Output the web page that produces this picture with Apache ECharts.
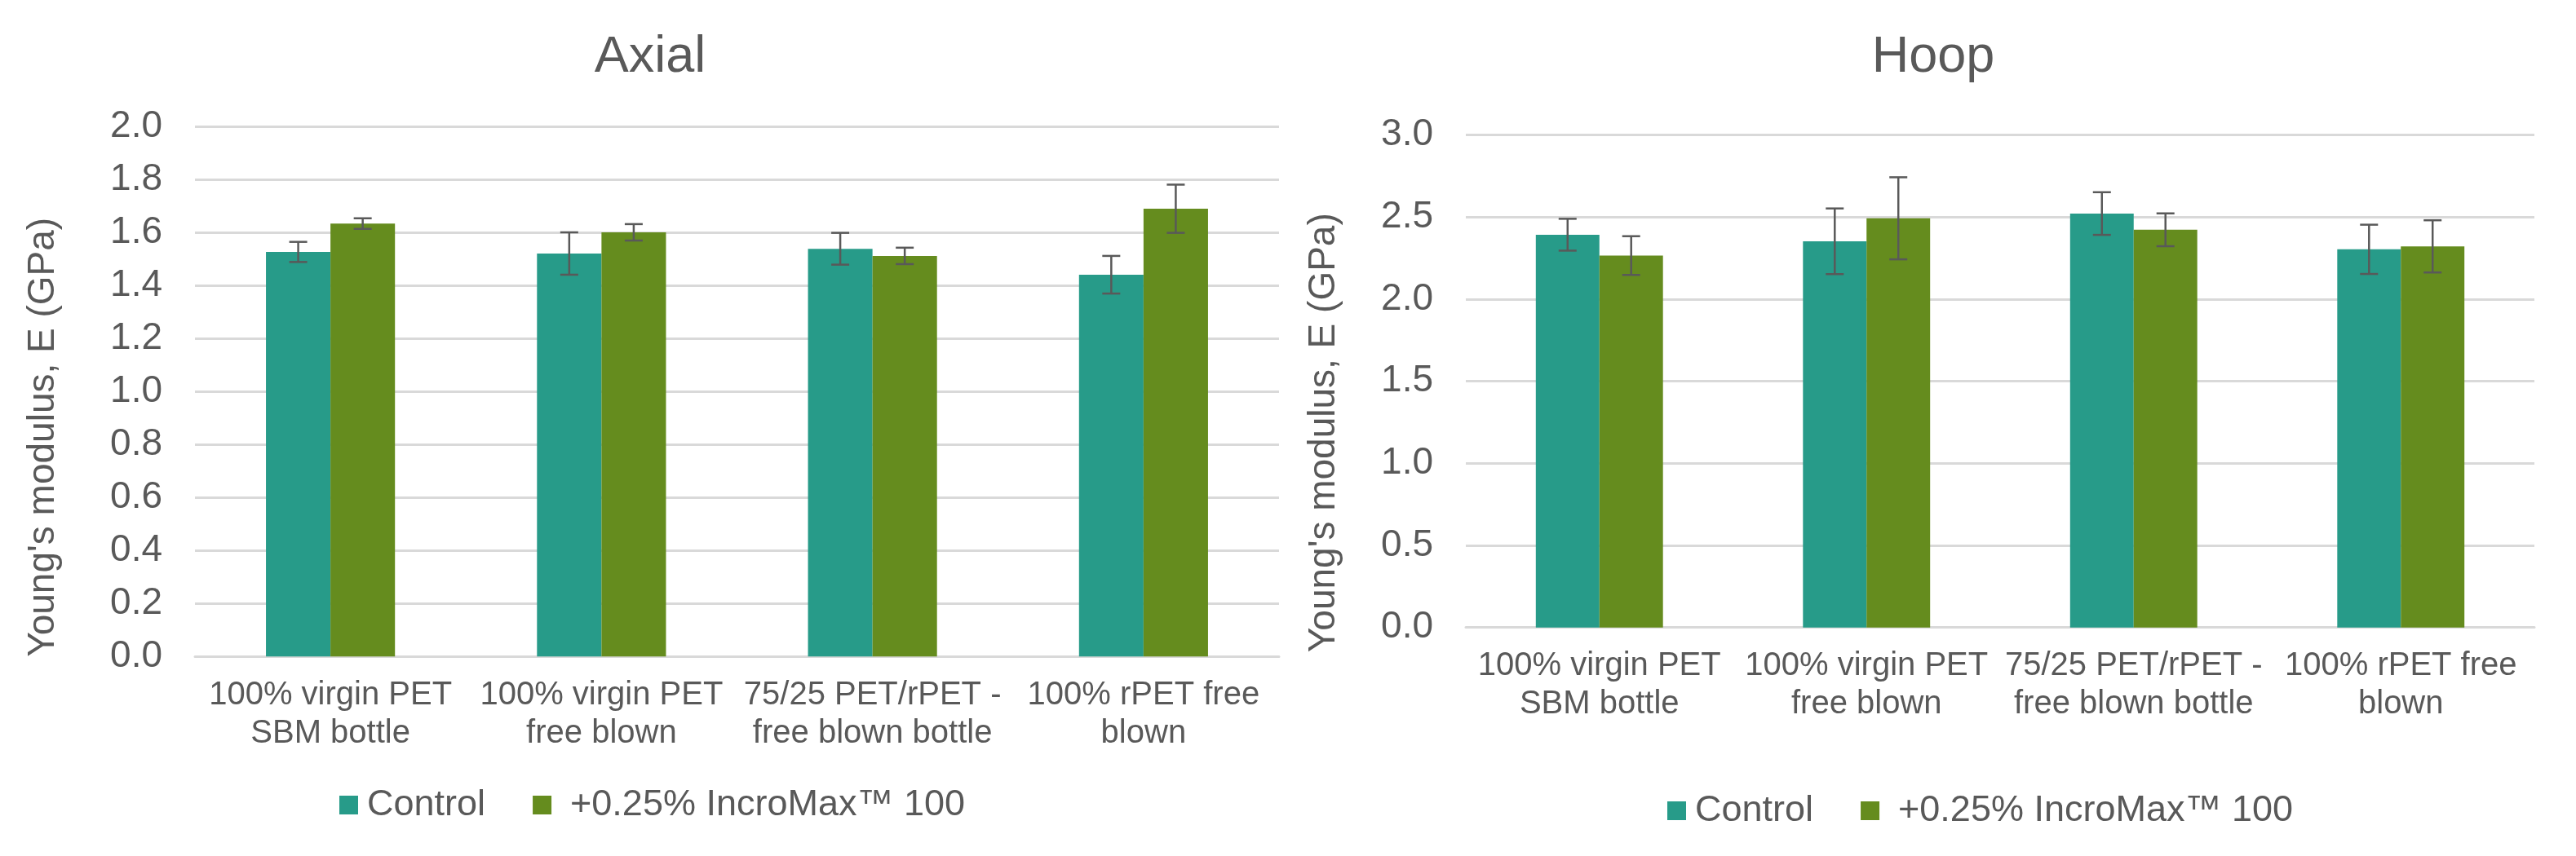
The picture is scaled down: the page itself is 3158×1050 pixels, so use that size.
<!DOCTYPE html>
<html>
<head>
<meta charset="utf-8">
<script src="https://cdn.jsdelivr.net/npm/echarts@6/dist/echarts.min.js"></script>
<style>
html,body{margin:0;padding:0;background:#fff;}
#chart{width:3158px;height:1050px;}
</style>
</head>
<body>
<div id="chart"></div>
<script>
const categories = ['100% virgin PET\nSBM bottle', '100% virgin PET\nfree blown', '75/25 PET/rPET -\nfree blown bottle', '100% rPET free\nblown'];
const seriesNames = ['Control', '+0.25% IncroMax\u2122 100'];
const axialTicks = { min: 0, max: 2.0, interval: 0.2 };
const hoopTicks = { min: 0, max: 3.0, interval: 0.5 };
const axialControl = [1.527, 1.521, 1.539, 1.441];
const axialControlErr = [0.038, 0.080, 0.060, 0.071];
const axialIncro = [1.634, 1.601, 1.512, 1.690];
const axialIncroErr = [0.020, 0.031, 0.031, 0.091];
const hoopControl = [2.393, 2.353, 2.522, 2.304];
const hoopControlErr = [0.097, 0.200, 0.130, 0.150];
const hoopIncro = [2.266, 2.493, 2.423, 2.322];
const hoopIncroErr = [0.118, 0.250, 0.100, 0.159];

const FONT = '"Liberation Sans", Arial, sans-serif';
const TXT = '#595959';
const GRIDC = '#d9d9d9';
const COLORS = ['#279b89', '#658c1e'];
const CAT_GAP = 0.524;

const chart = echarts.init(document.getElementById('chart'));

function errSeries(vals, errs, side, axisIdx) {
  return {
    type: 'custom',
    xAxisIndex: axisIdx, yAxisIndex: axisIdx,
    z: 5,
    silent: true,
    data: vals.map((v, i) => [i, v, errs[i]]),
    encode: { x: 0, y: 1 },
    renderItem: function (params, api) {
      const i = api.value(0), v = api.value(1), e = api.value(2);
      const catW = api.size([1, 0])[0];
      const bw = catW * (1 - CAT_GAP) / 2;
      const top = api.coord([i, v + e]);
      const bot = api.coord([i, v - e]);
      const x = top[0] + side * bw / 2;
      const hw = 11;
      const st = { stroke: '#595959', lineWidth: 2.5 };
      return {
        type: 'group',
        children: [
          { type: 'line', shape: { x1: x, y1: top[1], x2: x, y2: bot[1] }, style: st },
          { type: 'line', shape: { x1: x - hw, y1: top[1], x2: x + hw, y2: top[1] }, style: st },
          { type: 'line', shape: { x1: x - hw, y1: bot[1], x2: x + hw, y2: bot[1] }, style: st }
        ]
      };
    }
  };
}

function xAx(idx) {
  return {
    type: 'category', gridIndex: idx, data: categories,
    axisTick: { show: false },
    axisLine: { lineStyle: { color: GRIDC, width: 3 } },
    axisLabel: { interval: 0, color: TXT, fontFamily: FONT, fontSize: 40, lineHeight: 47, margin: 24 }
  };
}
function yAx(idx, t, gap, pad) {
  return {
    type: 'value', gridIndex: idx, min: t.min, max: t.max, interval: t.interval,
    name: "Young's modulus, E (GPa)", nameLocation: 'middle', nameGap: gap,
    nameTextStyle: { color: TXT, fontFamily: FONT, fontSize: 46, padding: [0, pad, 0, 0] },
    axisLine: { show: false }, axisTick: { show: false },
    splitLine: { lineStyle: { color: GRIDC, width: 3 } },
    axisLabel: { color: TXT, fontFamily: FONT, fontSize: 46, margin: 40, formatter: v => v.toFixed(1) }
  };
}
function legend(left, top) {
  return {
    left: left, top: top, itemWidth: 23, itemHeight: 23, itemGap: 58,
    icon: 'rect',
    textStyle: { color: TXT, fontFamily: FONT, fontSize: 45 },
    data: [
      { name: seriesNames[0], textStyle: { padding: [0, 0, 0, 6] } },
      { name: seriesNames[1], textStyle: { padding: [0, 0, 0, 18] } }
    ]
  };
}
function bar(name, vals, idx, color) {
  return {
    type: 'bar', name: name, xAxisIndex: idx, yAxisIndex: idx, data: vals,
    barGap: '0%', barCategoryGap: (CAT_GAP * 100) + '%',
    itemStyle: { color: color }, z: 2
  };
}

chart.setOption({
  animation: false,
  backgroundColor: '#ffffff',
  title: [
    { text: 'Axial', left: 792, top: 34, textAlign: 'center', textStyle: { color: TXT, fontFamily: FONT, fontSize: 63, fontWeight: 'normal' } },
    { text: 'Hoop', left: 2365, top: 34, textAlign: 'center', textStyle: { color: TXT, fontFamily: FONT, fontSize: 63, fontWeight: 'normal' } }
  ],
  grid: [
    { left: 239, top: 155.3, width: 1329, height: 650, containLabel: false },
    { left: 1797, top: 165.7, width: 1310, height: 604, containLabel: false }
  ],
  xAxis: [xAx(0), xAx(1)],
  yAxis: [yAx(0, axialTicks, 163, 112), yAx(1, hoopTicks, 151, 126)],
  legend: [legend(411, 960), legend(2039, 967)],
  series: [
    bar(seriesNames[0], axialControl, 0, COLORS[0]),
    bar(seriesNames[1], axialIncro, 0, COLORS[1]),
    bar(seriesNames[0], hoopControl, 1, COLORS[0]),
    bar(seriesNames[1], hoopIncro, 1, COLORS[1]),
    errSeries(axialControl, axialControlErr, -1, 0),
    errSeries(axialIncro, axialIncroErr, 1, 0),
    errSeries(hoopControl, hoopControlErr, -1, 1),
    errSeries(hoopIncro, hoopIncroErr, 1, 1)
  ]
});
</script>
</body>
</html>
